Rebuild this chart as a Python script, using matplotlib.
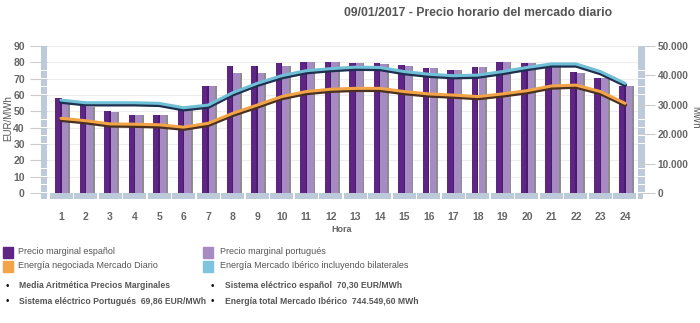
import matplotlib
matplotlib.use("Agg")
import matplotlib.pyplot as plt
from matplotlib.patches import Rectangle
from matplotlib.ticker import FuncFormatter
import matplotlib.patheffects as pe

hours = list(range(1, 25))
precio_es = [58, 53, 50, 48, 48, 52.5, 65.5, 77.8, 78, 79.5, 80, 80,
             79.8, 79.6, 78.5, 76.7, 75.6, 76.9, 80, 79.8, 77, 73.8, 70.3, 65.5]
precio_pt = [57, 52.5, 49.5, 47.5, 47.5, 52, 65.5, 73.5, 73.5, 77.5, 80, 80,
             79.8, 79.2, 78, 76.3, 75.2, 76.9, 80, 79.8, 77, 73.6, 70.2, 65.5]
energia_diario = [25400, 24600, 23500, 23400, 23200, 22400, 23700, 27100, 29900, 32800, 34500, 35300,
                  35600, 35600, 34500, 33700, 33300, 32800, 33700, 34800, 36400, 36700, 34500, 30500]
energia_iberico = [31600, 30700, 30700, 30700, 30500, 29000, 29900, 34100, 37300, 39900, 41600, 42300,
                   42800, 42700, 41300, 40400, 39900, 40100, 41300, 42700, 43900, 43900, 41300, 37300]
left_ticks = [0, 10, 20, 30, 40, 50, 60, 70, 80, 90]
right_ticks = [0, 10000, 20000, 30000, 40000, 50000]

plt.rcParams['font.family'] = ['Liberation Sans', 'DejaVu Sans']

W, H = 700, 323
fig = plt.figure(figsize=(7, 3.23), dpi=100)
fig.patch.set_facecolor("white")

ax_l, ax_r, ax_b, ax_t = 47, 638, 193, 46
ax = fig.add_axes([ax_l / W, 1 - ax_b / H, (ax_r - ax_l) / W, (ax_b - ax_t) / H])
pxh = 24.52  # px per hour
x0 = 1 - (61 - ax_l) / pxh
x1 = 24 + (ax_r - 625) / pxh
ax.set_xlim(x0, x1)
ax.set_ylim(0, 90)
pxv = (ax_b - ax_t) / 90.0

txtc = "#666666"
wallc = "#bccad9"

for v in left_ticks[1:]:
    ax.axhline(v, color="#ededed", lw=0.8, zorder=0)

bw = 6.6 / pxh
xs = [h - 6 / pxh for h in hours]
xp = [h + 0.7 / pxh for h in hours]
ax.bar([x + bw for x in xp], precio_pt, width=1.8 / pxh, align="edge", color="#8c8c8c", zorder=1)
ax.bar(xp, precio_pt, width=bw, align="edge", color="#a68bc2", zorder=2)
ax.bar(xs, precio_es, width=bw, align="edge", color="#5e2585", zorder=3)
ax.bar([x + bw - 1.3 / pxh for x in xs], precio_es, width=1.3 / pxh, align="edge", color="#4a1a6e", zorder=3)

fh = 6 / pxv
for h in hours:
    ax.add_patch(Rectangle((h - 11.5 / pxh, -fh), 23 / pxh, fh, color=wallc, clip_on=False, zorder=4, lw=0))
ax.add_patch(Rectangle((x0 - 6 / pxh, -fh), 6 / pxh, fh, color=wallc, clip_on=False, zorder=4, lw=0))
ax.add_patch(Rectangle((x1, -fh), 5 / pxh, fh, color=wallc, clip_on=False, zorder=4, lw=0))
for k in range(18):
    y = k * 5
    ax.add_patch(Rectangle((x0 - 6 / pxh, y + 0.4), 6 / pxh, 4.6, color=wallc, clip_on=False, zorder=4, lw=0))
    ax.add_patch(Rectangle((x1, y + 0.4), 7 / pxh, 4.6, color=wallc, clip_on=False, zorder=4, lw=0))

for s in ax.spines.values():
    s.set_visible(False)
ax.set_yticks(left_ticks)
ax.tick_params(axis="y", length=12, color="#cccccc", labelcolor=txtc, labelsize=7.5, pad=4)
for lab in ax.get_yticklabels():
    lab.set_fontweight("bold")
ax.set_xticks(hours)
ax.set_xticklabels([str(h) for h in hours])
ax.tick_params(axis="x", length=0, labelcolor=txtc, labelsize=7.5, pad=14)
for lab in ax.get_xticklabels():
    lab.set_fontweight("bold")

ax2 = ax.twinx()
ax2.set_ylim(0, 50000)
ax2.set_yticks(right_ticks)
ax2.yaxis.set_major_formatter(FuncFormatter(lambda v, p: f"{int(v):,}".replace(",", ".")))
ax2.tick_params(axis="y", length=12, color="#cccccc", labelcolor=txtc, labelsize=7.3, pad=2)
for lab in ax2.get_yticklabels():
    lab.set_fontweight("bold")
for s in ax2.spines.values():
    s.set_visible(False)
ax2.set_xlim(x0, x1)

ax2.plot(hours, energia_iberico, color="#6fc0d6", lw=2.2, zorder=6, solid_capstyle="round",
         path_effects=[pe.SimpleLineShadow(offset=(0, -1.2), shadow_color="#1f2f4f", alpha=1, linewidth=3), pe.Normal()])
ax2.plot(hours, energia_diario, color="#f2a447", lw=2.2, zorder=6, solid_capstyle="round",
         path_effects=[pe.SimpleLineShadow(offset=(0, -1.2), shadow_color="#4a3020", alpha=1, linewidth=3), pe.Normal()])

fig.text(8 / W, 1 - 118 / H, "EUR/MWh", rotation=90, ha="center", va="center", fontsize=7, color="#555555")
fig.text(695 / W, 1 - 117 / H, "MWh", rotation=-90, ha="center", va="center", fontsize=7, color="#555555")
fig.text(342 / W, 1 - 230 / H, "Hora", ha="center", va="center", fontsize=6.5, color=txtc, fontweight="bold")

fig.text(478 / W, 1 - 13 / H, "09/01/2017 - Precio horario del mercado diario", ha="center", va="center",
         fontsize=8.8, color="#555555", fontweight="bold")

leg_items = [
    (3, 247, "#5e2585", 18, 251, "Precio marginal español"),
    (203, 247, "#a68bc2", 220, 251, "Precio marginal portugués"),
    (3, 261, "#f2a447", 18, 266, "Energía negociada Mercado Diario"),
    (203, 261, "#7ec4dc", 220, 266, "Energía Mercado Ibérico incluyendo bilaterales"),
]
for sx, sy, c, tx, ty, t in leg_items:
    fig.patches.append(Rectangle((sx / W, 1 - (sy + 11) / H), 10 / W, 11 / H, transform=fig.transFigure,
                                 color=c, figure=fig))
    fig.text(tx / W, 1 - ty / H, t, ha="left", va="center", fontsize=6.5, color="#555555")

info = [
    (7, 19, 286, "Media Aritmética Precios Marginales"),
    (212, 225, 286, "Sistema eléctrico español  70,30 EUR/MWh"),
    (7, 19, 301, "Sistema eléctrico Portugués  69,86 EUR/MWh"),
    (212, 225, 301, "Energía total Mercado Ibérico  744.549,60 MWh"),
]
for bx, tx, ty, t in info:
    fig.text(bx / W, 1 - ty / H, "•", ha="center", va="center", fontsize=7, color="#111111")
    fig.text(tx / W, 1 - ty / H, t, ha="left", va="center", fontsize=6.2, color="#555555",
             fontweight="bold")

fig.savefig("out.png", dpi=100, facecolor="white")
